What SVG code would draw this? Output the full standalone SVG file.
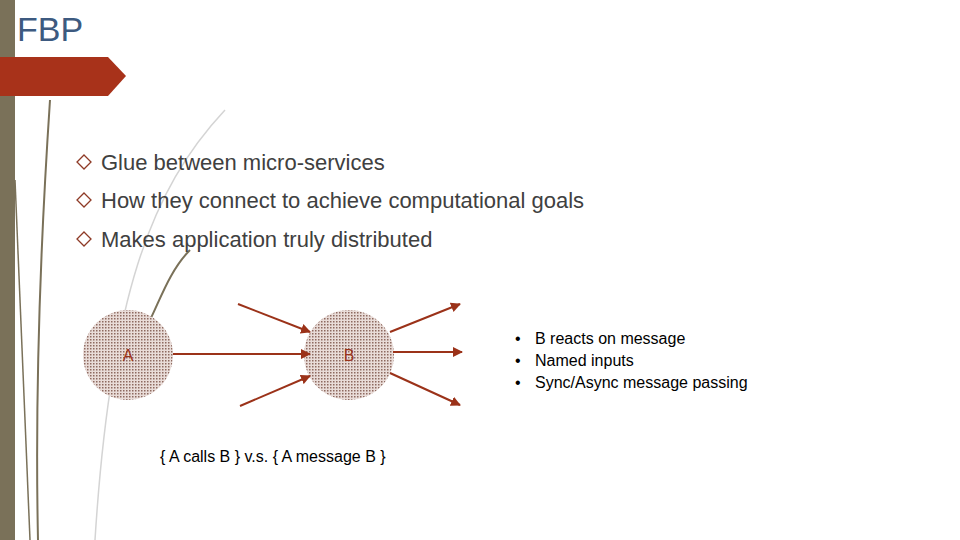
<svg xmlns="http://www.w3.org/2000/svg" width="960" height="540" viewBox="0 0 960 540">
<defs>
<pattern id="dots" width="3" height="3" patternUnits="userSpaceOnUse"><rect width="3" height="3" fill="#e9dcd8"/><rect width="1.5" height="1.5" fill="#8e6a60"/></pattern>
<marker id="ah" viewBox="0 0 10 10" refX="9" refY="5" markerWidth="5" markerHeight="5" orient="auto"><path d="M0,0L10,5L0,10z" fill="#9b3219"/></marker>
</defs>
<style>
.t{font-family:"Liberation Sans",Arial,sans-serif;fill:#404040}
.c{stroke:#9b3219;stroke-width:2;fill:none;marker-end:url(#ah)}
.lbl{font-family:"Liberation Sans",Arial,sans-serif;font-size:16px;fill:#9b3219;text-anchor:middle}
</style>
<rect width="960" height="540" fill="#fff"/>
<rect x="0" y="0" width="15" height="540" fill="#7a7159"/>
<path d="M50,100 C40,250 35,400 38,540" stroke="#7a7159" stroke-width="2" fill="none"/>
<path d="M15,180 C20,300 25,420 30,540" stroke="#7a7159" stroke-width="1.5" fill="none"/>
<path d="M225,110 C150,190 110,300 95,540" stroke="#d4d4d4" stroke-width="1.5" fill="none"/>
<path d="M190,250 C170,270 160,300 150,320" stroke="#7a7159" stroke-width="2" fill="none"/>
<path d="M0,57 H108 L126,76 L108,96 H0 Z" fill="#a8321a"/>
<text x="17" y="41" class="t" font-size="34" style="fill:#3d5a80">FBP</text>
<g id="bullets" class="t" font-size="22">
<g fill="none" stroke="#8e3a26" stroke-width="1.3"><path d="M84,155 L91,162 L84,169 L77,162Z"/><path d="M84,193 L91,200 L84,207 L77,200Z"/><path d="M84,232 L91,239 L84,246 L77,239Z"/></g>
<text x="101" y="170">Glue between micro-services</text>
<text x="101" y="208">How they connect to achieve computational goals</text>
<text x="101" y="247">Makes application truly distributed</text>
</g>
<g id="nodeA"><circle cx="128" cy="355" r="45" fill="url(#dots)"/><text x="128" y="361" class="lbl">A</text></g>
<g id="nodeB"><circle cx="349" cy="355" r="45" fill="url(#dots)"/><text x="349" y="361" class="lbl">B</text></g>
<g id="connectors">
<line x1="173" y1="354" x2="310" y2="354" class="c"/>
<line x1="238" y1="304" x2="310" y2="332" class="c"/>
<line x1="240" y1="406" x2="310" y2="376" class="c"/>
<line x1="390" y1="332" x2="460" y2="304" class="c"/>
<line x1="393" y1="352" x2="462" y2="352" class="c"/>
<line x1="390" y1="373" x2="460" y2="405" class="c"/>
</g>
<text x="160" y="462" class="t" font-size="16" style="fill:#000">{ A calls B } v.s. { A message B }</text>
<g id="notes" class="t" font-size="16" style="fill:#000">
<text x="515" y="344">•</text><text x="535" y="344">B reacts on message</text>
<text x="515" y="366">•</text><text x="535" y="366">Named inputs</text>
<text x="515" y="388">•</text><text x="535" y="388">Sync/Async message passing</text>
</g>
</svg>
